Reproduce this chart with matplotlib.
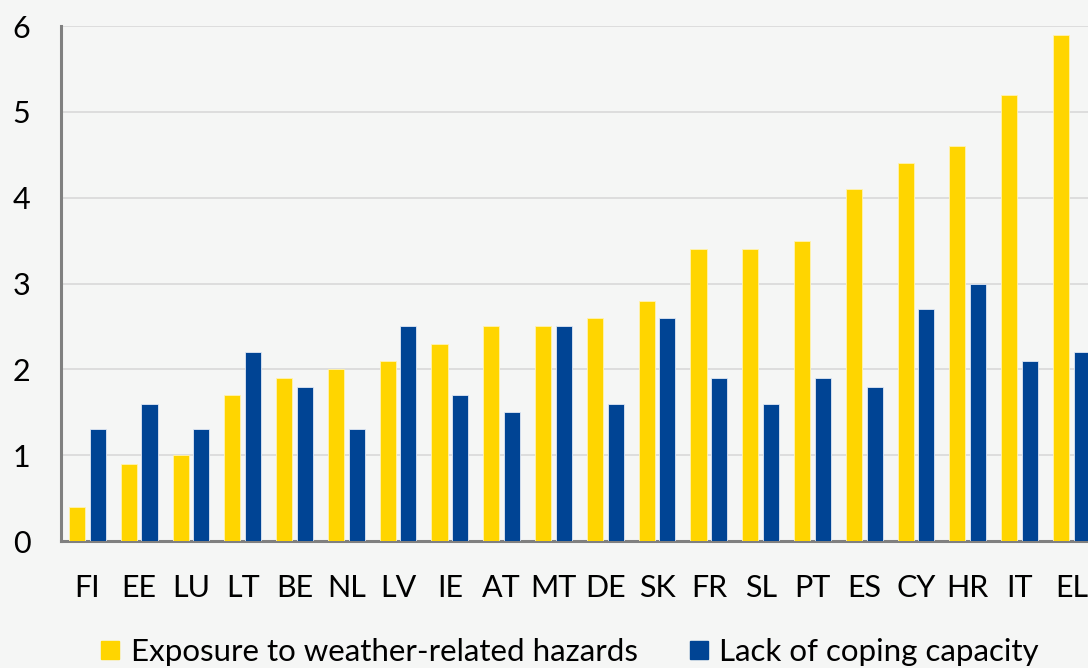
import numpy as np
import matplotlib
matplotlib.use("Agg")
import matplotlib.pyplot as plt
from matplotlib.lines import Line2D

countries = ["FI", "EE", "LU", "LT", "BE", "NL", "LV", "IE", "AT", "MT",
             "DE", "SK", "FR", "SL", "PT", "ES", "CY", "HR", "IT", "EL"]
exposure = [0.4, 0.9, 1.0, 1.7, 1.9, 2.0, 2.1, 2.3, 2.5, 2.5,
            2.6, 2.8, 3.4, 3.4, 3.5, 4.1, 4.4, 4.6, 5.2, 5.9]
coping = [1.3, 1.6, 1.3, 2.2, 1.8, 1.3, 2.5, 1.7, 1.5, 2.5,
          1.6, 2.6, 1.9, 1.6, 1.9, 1.8, 2.7, 3.0, 2.1, 2.2]
series_names = ["Exposure to weather-related hazards", "Lack of coping capacity"]

YELLOW = "#FFD500"
BLUE = "#004494"
BG = "#f5f6f5"

plt.rcParams["font.family"] = ["Lato", "DejaVu Sans"]

fig = plt.figure(figsize=(10.88, 6.68), dpi=100, facecolor=BG)
# axes deliberately run past the right edge of the canvas
ax = fig.add_axes([0.056, 0.190, 0.953, 0.771])
ax.set_facecolor(BG)

x = np.arange(len(countries))
w = 0.31
ax.bar(x - 0.2, exposure, w, color=YELLOW, edgecolor="#fff3b0", linewidth=0.6, zorder=3)
ax.bar(x + 0.2, coping, w, color=BLUE, edgecolor="#e0e8f5", linewidth=0.6, zorder=3)

ax.set_xlim(-0.51, len(countries) - 0.49)
ax.set_ylim(0, 6)
ax.set_yticks(np.arange(0, 7, 1))
ax.set_xticks(x)
ax.set_xticklabels(countries)
ax.yaxis.grid(True, color="#d9d9d9", linewidth=1.2, zorder=0)
ax.set_axisbelow(True)

for s in ["top", "right"]:
    ax.spines[s].set_visible(False)
for s in ["left", "bottom"]:
    ax.spines[s].set_color("#808080")
    ax.spines[s].set_linewidth(2.2)

ax.tick_params(axis="both", length=0, labelsize=22, colors="black")
ax.tick_params(axis="y", pad=22)
ax.tick_params(axis="x", pad=24)

handles = [Line2D([], [], marker="s", linestyle="none", markersize=13, color=c)
           for c in (YELLOW, BLUE)]
ax.legend(handles, series_names, loc="upper center", bbox_to_anchor=(0.49, -0.133),
          ncol=2, frameon=False, fontsize=22.5, handletextpad=0.3,
          columnspacing=1.6, handlelength=0.7)

fig.savefig("out.png", dpi=100, facecolor=BG)
